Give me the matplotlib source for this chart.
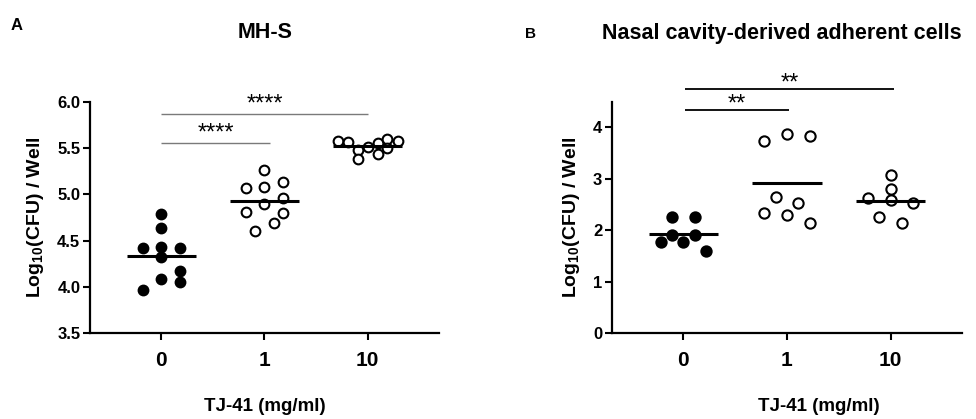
import matplotlib
matplotlib.use('Agg')
import matplotlib.pyplot as plt

plt.rcParams['font.family'] = ['Liberation Sans', 'DejaVu Sans']
plt.rcParams['font.weight'] = 'bold'
plt.rcParams['mathtext.fontset'] = 'custom'
plt.rcParams['mathtext.rm'] = 'Liberation Sans:bold'
plt.rcParams['mathtext.bf'] = 'Liberation Sans:bold'

# dose groups (TJ-41, mg/ml)
doses = ['0', '1', '10']

# panel A: MH-S, log10 CFU per well
mhs_0 = [4.79, 4.64, 4.42, 4.43, 4.42, 4.32, 4.17, 4.08, 4.05, 3.97]
mhs_0_dx = [0.0, 0.0, -0.18, 0.0, 0.18, 0.0, 0.18, 0.0, 0.18, -0.18]
mhs_1 = [5.26, 5.07, 5.08, 5.13, 4.96, 4.89, 4.81, 4.80, 4.69, 4.60]
mhs_1_dx = [0.0, -0.18, 0.0, 0.18, 0.18, 0.0, -0.18, 0.18, 0.09, -0.09]
mhs_10 = [5.58, 5.56, 5.48, 5.38, 5.51, 5.55, 5.44, 5.60, 5.50, 5.58]
mhs_10_dx = [-0.29, -0.19, -0.09, -0.09, 0.0, 0.1, 0.1, 0.19, 0.19, 0.29]
mhs_means = [4.33, 4.93, 5.52]
mhs_sig = [(0, 1.05, 5.55, '****'), (0, 2.0, 5.87, '****')]

# panel B: nasal cavity-derived adherent cells
nas_0 = [2.26, 2.26, 1.90, 1.90, 1.77, 1.77, 1.60]
nas_0_dx = [-0.11, 0.11, -0.11, 0.11, -0.22, 0.0, 0.22]
nas_1 = [3.73, 3.88, 3.84, 2.65, 2.53, 2.34, 2.30, 2.14]
nas_1_dx = [-0.22, 0.0, 0.22, -0.11, 0.11, -0.22, 0.0, 0.22]
nas_10 = [3.08, 2.81, 2.59, 2.63, 2.53, 2.26, 2.14]
nas_10_dx = [0.0, 0.0, 0.0, -0.22, 0.22, -0.11, 0.11]
nas_means = [1.93, 2.92, 2.57]
nas_sig = [(0.02, 1.02, 4.33, '**'), (0.02, 2.03, 4.75, '**')]

fig = plt.figure(figsize=(9.76, 4.19), dpi=100)
axA = fig.add_axes([0.0922, 0.2050, 0.3576, 0.5523])
axB = fig.add_axes([0.6270, 0.2050, 0.3587, 0.5523])


def draw_panel(ax, groups, offsets, means, sig, sig_color, sig_lw, ms, star_dy):
  for i, (vals, dx) in enumerate(zip(groups, offsets)):
    xs = [i + d for d in dx]
    face = 'black' if i == 0 else 'white'
    ax.plot(xs, vals, 'o', ms=ms, mfc=face, mec='black', mew=1.5,
            ls='none', zorder=3, clip_on=False)
    ax.plot([i - 0.335, i + 0.335], [means[i], means[i]], color='black',
            lw=2.2, zorder=4, solid_capstyle='butt')
  for x0, x1, y, txt in sig:
    ax.plot([x0, x1], [y, y], color=sig_color, lw=sig_lw, clip_on=False,
            solid_capstyle='butt')
    ax.annotate(txt, ((x0 + x1) / 2, y), xytext=(0, star_dy),
                textcoords='offset points', ha='center', va='bottom',
                fontsize=17, fontweight='normal', annotation_clip=False)
  ax.set_xlim(-0.69, 2.69)
  ax.set_xticks(range(len(doses)))
  ax.set_xticklabels(doses, fontsize=15, fontweight='bold')
  for s in ['top', 'right']:
    ax.spines[s].set_visible(False)
  for s in ['left', 'bottom']:
    ax.spines[s].set_linewidth(1.6)
  ax.tick_params(axis='both', width=1.5, length=5)
  ax.tick_params(axis='x', pad=8)
  ax.tick_params(axis='y', labelsize=12, pad=2)


draw_panel(axA, [mhs_0, mhs_1, mhs_10], [mhs_0_dx, mhs_1_dx, mhs_10_dx],
           mhs_means, mhs_sig, '#7a7a7a', 1.0, 7, -1)
axA.set_ylim(3.5, 6.0)
axA.set_yticks([3.5, 4.0, 4.5, 5.0, 5.5, 6.0])
axA.set_yticklabels(['3.5', '4.0', '4.5', '5.0', '5.5', '6.0'])

draw_panel(axB, [nas_0, nas_1, nas_10], [nas_0_dx, nas_1_dx, nas_10_dx],
           nas_means, nas_sig, 'black', 1.3, 7.4, -4)
axB.set_ylim(0, 4.5)
axB.set_yticks([0, 1, 2, 3, 4])

ylab = r'Log$_\mathbf{10}$(CFU) / Well'
fig.text(0.036, 0.482, ylab, rotation=90, ha='center', va='center', fontsize=14)
fig.text(0.586, 0.482, ylab, rotation=90, ha='center', va='center', fontsize=14)
fig.text(0.2715, 0.031, 'TJ-41 (mg/ml)', ha='center', va='center', fontsize=13.5)
fig.text(0.839, 0.031, 'TJ-41 (mg/ml)', ha='center', va='center', fontsize=13.5)

fig.text(0.2715, 0.923, 'MH-S', ha='center', va='center', fontsize=15.5)
fig.text(0.801, 0.921, 'Nasal cavity-derived adherent cells', ha='center',
         va='center', fontsize=15.5)
fig.text(0.017, 0.938, 'A', ha='center', va='center', fontsize=12)
fig.text(0.5435, 0.919, 'B', ha='center', va='center', fontsize=11)

fig.savefig('out.png', dpi=100)
